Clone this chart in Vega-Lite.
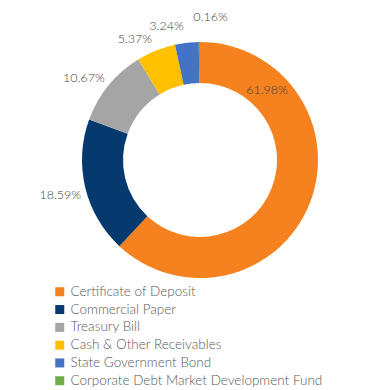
{
  "$schema": "https://vega.github.io/schema/vega-lite/v6.json",
  "width": 400,
  "height": 320,
  "autosize": "none",
  "padding": {"left": 0, "top": 0, "right": 0, "bottom": 70},
  "background": "white",
  "config": {"view": {"stroke": null}},
  "data": {
    "values": [
      {"category": "Certificate of Deposit", "value": 0.6198},
      {"category": "Commercial Paper", "value": 0.1859},
      {"category": "Treasury Bill", "value": 0.1067},
      {"category": "Cash & Other Receivables", "value": 0.0537},
      {"category": "State Government Bond", "value": 0.0324},
      {"category": "Corporate Debt Market Development Fund", "value": 0.0016}
    ]
  },
  "transform": [
    {"window": [{"op": "row_number", "as": "idx"}]}
  ],
  "encoding": {
    "theta": {"field": "value", "type": "quantitative", "stack": true},
    "order": {"field": "idx", "type": "quantitative"}
  },
  "layer": [
    {
      "mark": {"type": "arc", "outerRadius": 118, "innerRadius": 77},
      "encoding": {
        "color": {
          "field": "category",
          "type": "nominal",
          "sort": null,
          "scale": {
            "domain": ["Certificate of Deposit", "Commercial Paper", "Treasury Bill", "Cash & Other Receivables", "State Government Bond", "Corporate Debt Market Development Fund"],
            "range": ["#F5821F", "#063A6F", "#A5A5A5", "#FFC000", "#4472C4", "#70AD47"]
          },
          "legend": {
            "title": null,
            "orient": "none",
            "legendX": 53,
            "legendY": 285,
            "symbolType": "square",
            "symbolSize": 81,
            "symbolStrokeWidth": 0,
            "labelFont": "Lato",
            "labelFontSize": 13.5,
            "labelFontWeight": 300,
            "labelColor": "#595959",
            "labelOffset": 4,
            "rowPadding": 2.8,
            "padding": 0,
            "labelLimit": 400
          }
        }
      }
    },
    {
      "mark": {"type": "text", "radius": 97, "thetaOffset": -1.185, "font": "Lato", "fontSize": 12.5, "fontWeight": 300, "color": "#404040"},
      "encoding": {
        "text": {"condition": {"test": "datum.category != 'Certificate of Deposit'", "value": ""}, "field": "value", "type": "quantitative", "format": ".2%"}
      }
    },
    {
      "mark": {"type": "text", "radius": 144, "thetaOffset": -0.01, "font": "Lato", "fontSize": 12.5, "fontWeight": 300, "color": "#404040"},
      "encoding": {
        "text": {"condition": {"test": "datum.category != 'Commercial Paper'", "value": ""}, "field": "value", "type": "quantitative", "format": ".2%"}
      }
    },
    {
      "mark": {"type": "text", "radius": 142, "thetaOffset": -0.072, "font": "Lato", "fontSize": 12.5, "fontWeight": 300, "color": "#404040"},
      "encoding": {
        "text": {"condition": {"test": "datum.category != 'Treasury Bill'", "value": ""}, "field": "value", "type": "quantitative", "format": ".2%"}
      }
    },
    {
      "mark": {"type": "text", "radius": 137, "thetaOffset": -0.113, "font": "Lato", "fontSize": 12.5, "fontWeight": 300, "color": "#404040"},
      "encoding": {
        "text": {"condition": {"test": "datum.category != 'Cash & Other Receivables'", "value": ""}, "field": "value", "type": "quantitative", "format": ".2%"}
      }
    },
    {
      "mark": {"type": "text", "radius": 138, "thetaOffset": -0.133, "font": "Lato", "fontSize": 12.5, "fontWeight": 300, "color": "#404040"},
      "encoding": {
        "text": {"condition": {"test": "datum.category != 'State Government Bond'", "value": ""}, "field": "value", "type": "quantitative", "format": ".2%"}
      }
    },
    {
      "mark": {"type": "text", "radius": 143, "thetaOffset": 0.079, "font": "Lato", "fontSize": 12.5, "fontWeight": 300, "color": "#404040"},
      "encoding": {
        "text": {"condition": {"test": "datum.category != 'Corporate Debt Market Development Fund'", "value": ""}, "field": "value", "type": "quantitative", "format": ".2%"}
      }
    }
  ]
}
